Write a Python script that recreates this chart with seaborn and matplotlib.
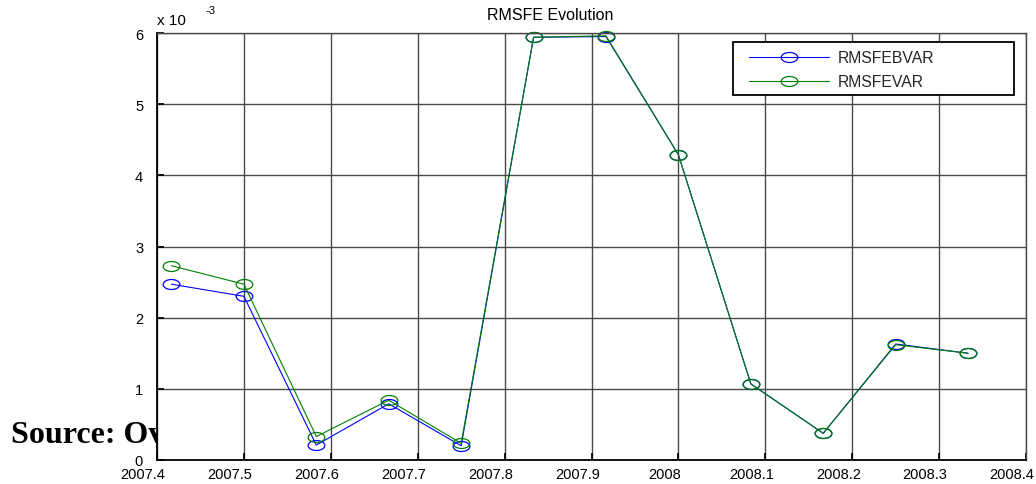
import numpy as np
import pandas as pd
import seaborn as sns
import matplotlib
matplotlib.use("Agg")
import matplotlib.pyplot as plt
from matplotlib.path import Path
from matplotlib.patches import Rectangle
from matplotlib.transforms import Affine2D, ScaledTranslation

# ---- data (values in units of 1e-3) ----
months = [2007 + k / 12 for k in range(5, 17)]
rmsfe_bvar = [2.47, 2.30, 0.21, 0.79, 0.20, 5.94, 5.95, 4.29, 1.07, 0.375, 1.63, 1.50]
rmsfe_var = [2.73, 2.47, 0.33, 0.84, 0.235, 5.94, 5.96, 4.29, 1.07, 0.375, 1.62, 1.50]
series_names = ["RMSFEBVAR", "RMSFEVAR"]
xticks = [2007.4, 2007.5, 2007.6, 2007.7, 2007.8, 2007.9, 2008.0, 2008.1, 2008.2, 2008.3, 2008.4]
xtick_labels = ["2007.4", "2007.5", "2007.6", "2007.7", "2007.8", "2007.9", "2008",
                "2008.1", "2008.2", "2008.3", "2008.4"]
yticks = [0, 1, 2, 3, 4, 5, 6]
title = "RMSFE Evolution"

sns.set_theme(style="white")
plt.rcParams['font.family'] = ['Liberation Sans', 'DejaVu Sans']

fig = plt.figure(figsize=(10.36, 4.85), dpi=100)
W, H = 1036, 485
ax = fig.add_axes([157 / W, 1 - 461 / H, (1026 - 157) / W, (461 - 34) / H])
ax.set_facecolor("white")
ax.set_zorder(1)

df = pd.DataFrame({
    "x": months * 2,
    "y": rmsfe_bvar + rmsfe_var,
    "series": [series_names[0]] * len(months) + [series_names[1]] * len(months),
})

ellipse = Path.unit_circle().transformed(Affine2D().scale(1.0, 0.6))
colors = {"RMSFEBVAR": (0, 0, 1), "RMSFEVAR": (0, 0.5, 0)}
for name in series_names:
    sub = df[df["series"] == name]
    sns.lineplot(data=sub, x="x", y="y", ax=ax, color=colors[name], label=name,
                 marker=ellipse, markersize=12, markerfacecolor="none",
                 markeredgecolor=colors[name], markeredgewidth=0.9, linewidth=0.8,
                 estimator=None, sort=False, clip_on=False)

ax.set_xlim(2007.4, 2008.4)
ax.set_ylim(0, 6)
ax.set_xticks(xticks)
ax.set_xticklabels(xtick_labels, fontsize=10.5)
ax.set_yticks(yticks)
ax.set_yticklabels([str(v) for v in yticks], fontsize=10.5)
ax.set_xlabel("")
ax.set_ylabel("")
ax.grid(True, color="#4a4a4a", linewidth=1.0, linestyle="-")
ax.tick_params(axis="both", direction="in", length=5, color="black", labelcolor="black")
ax.tick_params(axis="x", pad=5)
ax.tick_params(axis="y", pad=10)
ax.tick_params(left=True, bottom=True)
shift = ScaledTranslation(-14 / 100, 0, fig.dpi_scale_trans)
for lab in ax.get_xticklabels():
    lab.set_transform(lab.get_transform() + shift)
for side in ["left", "bottom"]:
    ax.spines[side].set_color("black")
    ax.spines[side].set_linewidth(1.3)
for side in ["top", "right"]:
    ax.spines[side].set_color("#4a4a4a")
    ax.spines[side].set_linewidth(1.0)

# legend: MATLAB-style wide box drawn as a figure patch, entries as a figure legend
handles, labels = ax.get_legend_handles_labels()
if ax.get_legend() is not None:
    ax.get_legend().remove()
box = Rectangle((733 / W, 1 - 96 / H), (1014 - 733) / W, (96 - 43) / H,
                transform=fig.transFigure, facecolor="white", edgecolor="black",
                linewidth=1.3, zorder=2)
fig.add_artist(box)
leg = fig.legend(handles, labels, loc="upper left", bbox_to_anchor=(749 / W, 1 - 51 / H),
                 bbox_transform=fig.transFigure, fontsize=11.3, frameon=False,
                 handlelength=5.1, borderaxespad=0, borderpad=0, labelspacing=0.6,
                 handletextpad=0.55)
leg.set_zorder(3)

fig.text(550 / W, 1 - 15 / H, title, ha="center", va="center", fontsize=11.5, color="black")
fig.text(157 / W, 1 - 21 / H, "x 10", ha="left", va="center", fontsize=11, color="black")
fig.text(206 / W, 1 - 11.5 / H, "-3", ha="left", va="center", fontsize=8, color="black")
fig.text(11 / W, 1 - 436 / H, "Source: Overview", ha="left", va="center", fontsize=23,
         fontweight="bold", family=["Liberation Serif", "DejaVu Serif"], color="black",
         zorder=-1)

fig.savefig("out.png", dpi=100, facecolor="white")
